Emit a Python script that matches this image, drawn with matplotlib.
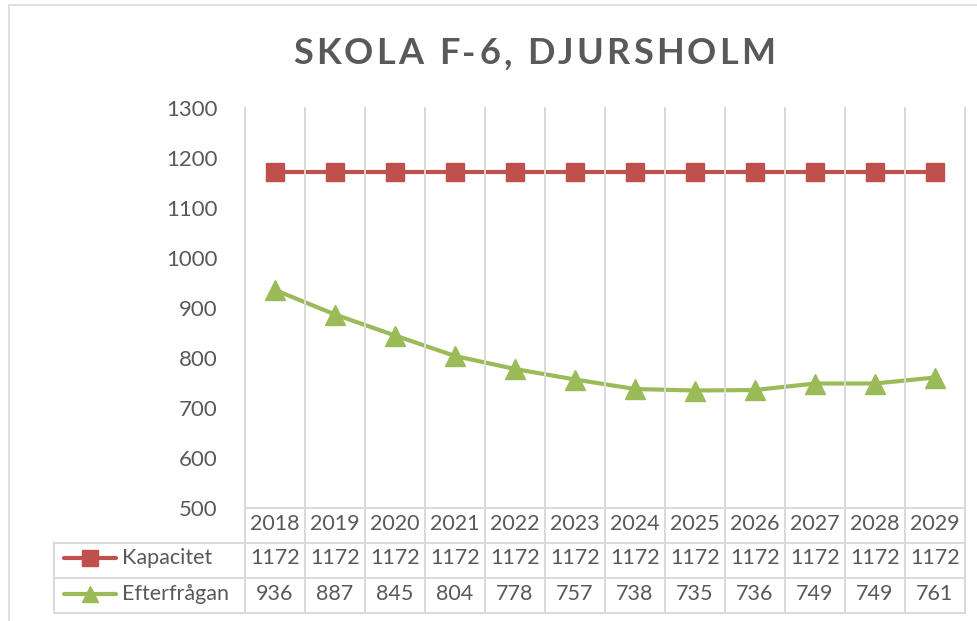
import numpy as np
import matplotlib.pyplot as plt
from matplotlib.lines import Line2D
from matplotlib.patches import Rectangle
from matplotlib.transforms import blended_transform_factory

plt.rcParams['font.family'] = ['Lato', 'DejaVu Sans']

years = ['2018', '2019', '2020', '2021', '2022', '2023', '2024', '2025', '2026', '2027', '2028', '2029']
kapacitet = [1172, 1172, 1172, 1172, 1172, 1172, 1172, 1172, 1172, 1172, 1172, 1172]
efterfragan = [936, 887, 845, 804, 778, 757, 738, 735, 736, 749, 749, 761]
series_names = ['Kapacitet', 'Efterfrågan']
title = 'SKOLA F-6, DJURSHOLM'

RED = '#C0504D'
GREEN = '#9BBB59'
GRID = '#d9d9d9'
TXT = '#595959'

W, H = 978, 621
fig = plt.figure(figsize=(W / 100, H / 100), dpi=100)


def fx(px):
    return px / W


def fy(py):
    return 1 - py / H


# chart frame
fig.add_artist(Rectangle((fx(9), fy(640)), fx(1000) - fx(9), fy(5) - fy(640),
                         transform=fig.transFigure, fill=False, ec=GRID, lw=1.2))

ax = fig.add_axes([fx(245), fy(508), fx(965) - fx(245), fy(108) - fy(508)])
x = np.arange(len(years))
ax.plot(x, kapacitet, color=RED, lw=3, marker='s', ms=13, zorder=3)
ax.plot(x, efterfragan, color=GREEN, lw=3, marker='^', ms=14, zorder=3)
ax.set_xlim(-0.5, len(years) - 0.5)
ax.set_ylim(500, 1300)
ax.set_yticks(range(500, 1301, 100))
ax.tick_params(axis='y', length=0, pad=20, labelsize=16, labelcolor=TXT)
ax.set_xticks([])
for s in ax.spines.values():
    s.set_visible(False)

# vertical lines through plot and table
bt = blended_transform_factory(ax.transData, fig.transFigure)
for b in np.arange(-0.5, len(years), 1):
    fig.add_artist(Line2D([b, b], [fy(108), fy(613)], transform=bt, color=GRID, lw=1.4))

# table horizontal lines
ft = fig.transFigure
fig.add_artist(Line2D([fx(245), fx(965)], [fy(508)] * 2, transform=ft, color=GRID, lw=1.4))
for py in (543, 578, 613):
    fig.add_artist(Line2D([fx(54), fx(965)], [fy(py)] * 2, transform=ft, color=GRID, lw=1.4))
fig.add_artist(Line2D([fx(54), fx(54)], [fy(543), fy(613)], transform=ft, color=GRID, lw=1.4))

# table texts
row_y = [fy(524), fy(558), fy(594)]
for i, yr in enumerate(years):
    fig.text(i, row_y[0], yr, transform=bt, ha='center', va='center', fontsize=15.5, color=TXT)
    fig.text(i, row_y[1], str(kapacitet[i]), transform=bt, ha='center', va='center', fontsize=15.5, color=TXT)
    fig.text(i, row_y[2], str(efterfragan[i]), transform=bt, ha='center', va='center', fontsize=15.5, color=TXT)

# legend keys in table
for ry, name, col, mk, ms in zip(row_y[1:], series_names, [RED, GREEN], ['s', '^'], [11, 12]):
    fig.add_artist(Line2D([fx(64), fx(116)], [ry, ry], transform=ft, color=col, lw=3,
                          solid_capstyle='round'))
    fig.add_artist(Line2D([fx(90)], [ry], transform=ft, color=col, marker=mk, ms=ms, lw=0))
    fig.text(fx(122), ry, name, ha='left', va='center', fontsize=15.5, color=TXT)

# letter-spaced title
renderer = fig.canvas.get_renderer()
spacing = 3.2
chars = []
total = 0
for ch in title:
    t = fig.text(0, fy(54), ch, ha='left', va='center', fontsize=26, fontweight='bold', color=TXT)
    w = t.get_window_extent(renderer).width if ch != ' ' else 9
    chars.append((t, w))
    total += w + spacing
total -= spacing
pos = 534 - total / 2
for t, w in chars:
    t.set_x(fx(pos))
    pos += w + spacing

fig.savefig('out.png', dpi=100)
